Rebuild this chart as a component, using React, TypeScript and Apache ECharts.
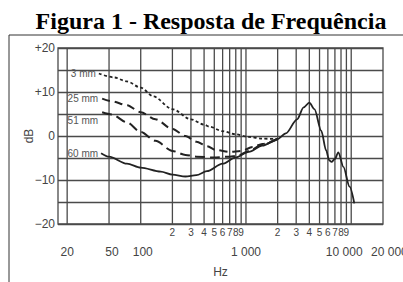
import React, { useEffect, useRef } from "react";
import * as echarts from "echarts";

const chartTitle = "Figura 1 - Resposta de Frequência";
const curveNames = ["3 mm", "25 mm", "51 mm", "60 mm"];

const freq3mm = [40, 56, 74, 100, 132, 200, 300, 400, 452, 600, 790, 1065, 1430, 2000];
const db3mm = [14.2, 13.3, 12.4, 11.0, 9.0, 6.1, 3.8, 2.6, 2.1, 1.1, 0.4, -0.2, -0.6, -0.7];

const freq25mm = [43, 53, 74, 100, 138, 200, 266, 338, 425, 521, 700, 900, 1160, 1430, 2000];
const db25mm = [8.5, 7.9, 7.0, 5.4, 3.8, 1.6, 0.0, -1.3, -2.3, -3.2, -3.6, -3.4, -2.5, -1.8, -0.7];

const freq51mm = [43, 53, 74, 100, 138, 200, 266, 338, 490, 700, 830, 1065, 1430, 2000];
const db51mm = [5.4, 4.9, 3.1, 0.9, -1.1, -3.4, -4.3, -4.7, -4.9, -4.7, -4.5, -3.4, -2.0, -0.7];

const freq60mm = [42, 50, 74, 100, 155, 200, 266, 338, 425, 600, 790, 1065, 1430, 2000, 2390, 3060, 3530, 4000, 4470, 5190, 5780, 6170, 6500, 7000, 7540, 8430, 9640, 10700];
const db60mm = [-3.9, -4.7, -6.3, -7.2, -8.1, -8.8, -9.2, -8.9, -8.0, -6.3, -4.9, -3.6, -2.2, -0.7, 0.6, 3.8, 6.5, 7.6, 6.1, 1.2, -3.3, -5.5, -5.9, -5.2, -3.7, -7.0, -11.5, -15.3];

const gridFreqs = [20, 50, 100, 200, 300, 400, 500, 600, 700, 800, 900, 1000, 2000, 3000, 4000, 5000, 6000, 7000, 8000, 9000, 10000];
const digitTickFreqs = [200, 300, 400, 500, 600, 700, 800, 900, 2000, 3000, 4000, 5000, 6000, 7000, 8000, 9000];
const digitTickLabels = ["2", "3", "4", "5", "6", "7", "8", "9", "2", "3", "4", "5", "6", "7", "8", "9"];
const mainTickFreqs = [20, 50, 100, 1000, 10000, 20000];
const mainTickLabels = ["20", "50", "100", "1 000", "10 000", "20 000"];
const mainTickStyles = ["n", "s3", "s2", "n", "l9", "r7"];
const yTickValues = [-20, -10, 0, 10, 20];
const yTickLabels = ["−20", "−10", "0", "+10", "+20"];

const LOG_MIN = 1.214;
const LOG_MAX = 4.302;
const SANS = '"Liberation Sans", Arial, sans-serif';
const GRID_COLOR = "#4a4a4a";

function findIdx(list: number[], v: number) {
  return list.findIndex((f) => Math.abs(Math.log10(f) - v) < 1e-6);
}

function buildData(freqs: number[], dbs: number[], name: string, offset: number[]) {
  return freqs.map((f, i) => {
    const item: any = { value: [Math.log10(f), dbs[i]] };
    if (i === 0) {
      item.label = {
        show: true,
        formatter: name,
        position: "left",
        distance: 3,
        offset,
        fontSize: 10,
        fontFamily: SANS,
        color: "#555",
      };
    }
    return item;
  });
}

export default function App() {
  const ref = useRef<HTMLDivElement>(null);
  useEffect(() => {
    const chart = echarts.init(ref.current!, null, { renderer: "svg" });
    const lineSeries = (name: string, freqs: number[], dbs: number[], dash: any, width: number, offset: number[]) => ({
      type: "line",
      name,
      xAxisIndex: 0,
      yAxisIndex: 0,
      z: 3,
      data: buildData(freqs, dbs, name, offset),
      symbol: "circle",
      symbolSize: 0,
      showSymbol: true,
      smooth: 0.3,
      smoothMonotone: "x",
      lineStyle: { color: "#222", width, type: dash },
      itemStyle: { color: "#222" },
    });
    const option: any = {
      animation: false,
      backgroundColor: "#fff",
      grid: { left: 58, top: 48, width: 325, height: 176, show: true, borderColor: GRID_COLOR, borderWidth: 1.3, outerBoundsMode: "none" },
      graphic: [
        {
          type: "text",
          x: 211,
          y: 21,
          style: {
            text: chartTitle,
            font: 'bold 24px "Liberation Serif", "Times New Roman", serif',
            textAlign: "center",
            textVerticalAlign: "middle",
            fill: "#000",
          },
        },
        { type: "line", shape: { x1: 9, y1: 35, x2: 403, y2: 35 }, style: { stroke: "#333", lineWidth: 1 } },
        { type: "line", shape: { x1: 9, y1: 35, x2: 9, y2: 282 }, style: { stroke: "#333", lineWidth: 1 } },
      ],
      xAxis: [
        {
          type: "value",
          min: LOG_MIN,
          max: LOG_MAX,
          axisLine: { show: false },
          axisTick: { show: false },
          splitLine: { show: false },
          name: "Hz",
          nameLocation: "middle",
          nameGap: 42,
          nameMoveOverlap: false,
          nameTextStyle: { fontSize: 12, color: "#444", fontFamily: SANS },
          axisLabel: {
            customValues: digitTickFreqs.map((f) => Math.log10(f)),
            formatter: (v: number) => {
              const i = findIdx(digitTickFreqs, v);
              return i >= 0 ? digitTickLabels[i] : "";
            },
            showMinLabel: true,
            showMaxLabel: true,
            hideOverlap: false,
            fontSize: 10,
            color: "#444",
            fontFamily: SANS,
            margin: 3,
          },
        },
        {
          type: "value",
          min: LOG_MIN,
          max: LOG_MAX,
          position: "bottom",
          axisLine: { show: false },
          axisTick: { show: false },
          splitLine: { show: false },
          axisLabel: {
            customValues: mainTickFreqs.map((f) => Math.log10(f)),
            formatter: (v: number) => {
              const i = findIdx(mainTickFreqs, v);
              return i >= 0 ? "{" + mainTickStyles[i] + "|" + mainTickLabels[i] + "}" : "";
            },
            rich: {
              n: { fontSize: 12, color: "#444", fontFamily: SANS },
              s3: { fontSize: 12, color: "#444", fontFamily: SANS, padding: [0, 0, 0, 6] },
              s2: { fontSize: 12, color: "#444", fontFamily: SANS, padding: [0, 0, 0, 4] },
              l9: { fontSize: 12, color: "#444", fontFamily: SANS, padding: [0, 14, 0, 0] },
              r7: { fontSize: 12, color: "#444", fontFamily: SANS, padding: [0, 0, 0, 13] },
            },
            showMinLabel: true,
            showMaxLabel: true,
            fontSize: 12,
            color: "#444",
            fontFamily: SANS,
            margin: 22,
          },
        },
      ],
      yAxis: {
        type: "value",
        min: -20,
        max: 20,
        interval: 5,
        axisLine: { show: false },
        axisTick: { show: false },
        splitLine: { show: true, lineStyle: { color: GRID_COLOR, width: 1.3 } },
        name: "dB",
        nameLocation: "middle",
        nameGap: 23,
        nameRotate: 90,
        nameMoveOverlap: false,
        nameTextStyle: { fontSize: 12, color: "#444", fontFamily: SANS },
        axisLabel: {
          formatter: (v: number) => {
            const i = yTickValues.indexOf(v);
            return i >= 0 ? yTickLabels[i] : "";
          },
          fontSize: 12,
          color: "#444",
          fontFamily: SANS,
          margin: 3,
        },
      },
      series: [
        {
          type: "custom",
          xAxisIndex: 0,
          yAxisIndex: 0,
          z: 1,
          silent: true,
          data: gridFreqs.map((f) => [Math.log10(f), 0]),
          encode: { x: 0, y: 1 },
          renderItem: (params: any, api: any) => {
            const x = api.coord([api.value(0), 0])[0];
            const cs = params.coordSys;
            return {
              type: "line",
              shape: { x1: x, y1: cs.y, x2: x, y2: cs.y + cs.height },
              style: { stroke: GRID_COLOR, lineWidth: 1.3 },
            };
          },
        },
        lineSeries(curveNames[0], freq3mm, db3mm, [3, 2.5], 1.8, [0, 0]),
        lineSeries(curveNames[1], freq25mm, db25mm, [8, 5], 2, [-1, 0]),
        lineSeries(curveNames[2], freq51mm, db51mm, [10, 5], 2, [-1, 8]),
        lineSeries(curveNames[3], freq60mm, db60mm, "solid", 1.8, [0, 0]),
      ],
    };
    chart.setOption(option);
    return () => chart.dispose();
  }, []);
  return (
    <div
      ref={ref}
      style={{ position: "fixed", left: 0, top: 0, width: 403, height: 282, background: "#fff" }}
    />
  );
}
